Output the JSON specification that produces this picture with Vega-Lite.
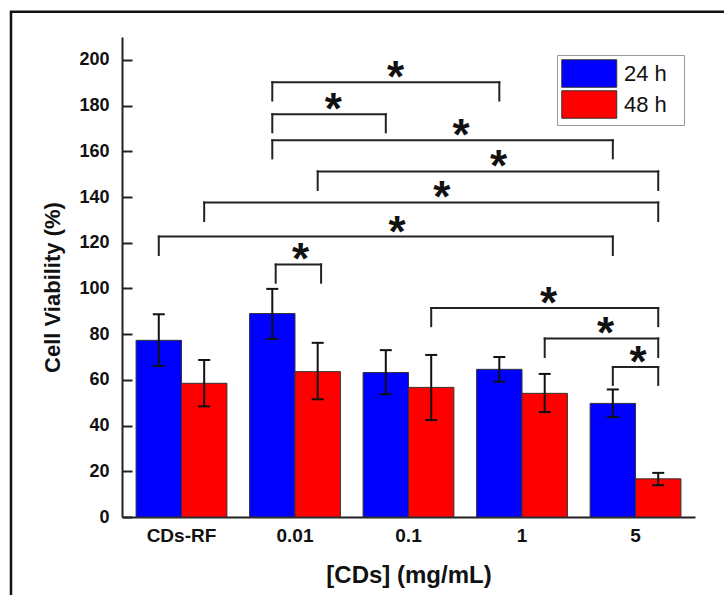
{
  "$schema": "https://vega.github.io/schema/vega-lite/v6.json",
  "width": 573,
  "height": 480,
  "autosize": {"type": "none"},
  "padding": {"left": 122, "top": 37, "right": 29, "bottom": 78},
  "background": "white",
  "config": {
    "view": {"stroke": null},
    "font": "Liberation Sans",
    "axis": {"labelFont": "Liberation Sans", "titleFont": "Liberation Sans", "labelColor": "#111", "titleColor": "#111", "grid": false}
  },
  "datasets": {
    "bars": [
      {"cat": "CDs-RF", "grp": "24 h", "v": 77.3, "lo": 66.1, "hi": 88.7},
      {"cat": "CDs-RF", "grp": "48 h", "v": 58.5, "lo": 48.4, "hi": 68.7},
      {"cat": "0.01", "grp": "24 h", "v": 89.0, "lo": 77.9, "hi": 99.8},
      {"cat": "0.01", "grp": "48 h", "v": 63.6, "lo": 51.5, "hi": 76.2},
      {"cat": "0.1", "grp": "24 h", "v": 63.2, "lo": 53.7, "hi": 73.0},
      {"cat": "0.1", "grp": "48 h", "v": 56.7, "lo": 42.4, "hi": 70.9},
      {"cat": "1", "grp": "24 h", "v": 64.6, "lo": 59.2, "hi": 70.0},
      {"cat": "1", "grp": "48 h", "v": 54.1, "lo": 45.9, "hi": 62.6},
      {"cat": "5", "grp": "24 h", "v": 49.7, "lo": 43.7, "hi": 55.8},
      {"cat": "5", "grp": "48 h", "v": 16.7, "lo": 13.9, "hi": 19.3}
    ],
    "brackets": [
      {"x1": 0.8, "x2": 2.8, "top": 190.2, "drop": 182.2, "sx": 1.887},
      {"x1": 0.8, "x2": 1.8, "top": 176.2, "drop": 168.3, "sx": 1.337},
      {"x1": 0.8, "x2": 3.8, "top": 164.8, "drop": 156.9, "sx": 2.463},
      {"x1": 1.2, "x2": 4.2, "top": 151.2, "drop": 143.1, "sx": 2.794},
      {"x1": 0.2, "x2": 4.2, "top": 137.6, "drop": 129.5, "sx": 2.293},
      {"x1": -0.2, "x2": 3.8, "top": 122.7, "drop": 114.6, "sx": 1.899},
      {"x1": 0.83, "x2": 1.23, "top": 110.5, "drop": 102.5, "sx": 1.049},
      {"x1": 2.2, "x2": 4.2, "top": 91.4, "drop": 83.5, "sx": 3.233},
      {"x1": 3.2, "x2": 4.2, "top": 78.1, "drop": 70.0, "sx": 3.737},
      {"x1": 3.8, "x2": 4.2, "top": 65.6, "drop": 57.8, "sx": 4.022}
    ],
    "frame": [
      {"k": 1, "fx": -1.502, "fy": -40},
      {"k": 2, "fx": -1.502, "fy": 221.0},
      {"k": 3, "fx": 4.9, "fy": 221.0}
    ]
  },
  "resolve": {"scale": {"x": "independent", "y": "independent"}, "axis": {"x": "independent", "y": "independent"}},
  "layer": [
    {
      "data": {"name": "bars"},
      "encoding": {
        "x": {
          "field": "cat", "type": "nominal",
          "sort": ["CDs-RF", "0.01", "0.1", "1", "5"],
          "scale": {"paddingInner": 0.2, "paddingOuter": 0.124},
          "axis": {
            "title": "[CDs] (mg/mL)", "titleFontSize": 24, "titleFontWeight": "bold", "titlePadding": 18,
            "labelAngle": 0, "labelFontSize": 19, "labelFontWeight": "bold", "labelPadding": 9,
            "ticks": false, "domainColor": "#222", "domainWidth": 2
          }
        },
        "xOffset": {"field": "grp", "type": "nominal", "scale": {"paddingInner": 0, "paddingOuter": 0}}
      },
      "layer": [
        {
          "mark": {"type": "bar", "stroke": "#333", "strokeWidth": 1},
          "encoding": {
            "y": {
              "field": "v", "type": "quantitative",
              "scale": {"domain": [0, 210], "nice": false, "zero": true},
              "axis": {
                "orient": "left",
                "title": "Cell Viability (%)", "titleFontSize": 22, "titleFontWeight": "bold", "titlePadding": 14, "titleY": 250,
                "values": [0, 20, 40, 60, 80, 100, 120, 140, 160, 180, 200],
                "labelFontSize": 18, "labelFontWeight": "bold", "labelPadding": 13,
                "ticks": false,
                "domainColor": "#222", "domainWidth": 2
              }
            },
            "color": {
              "field": "grp", "type": "nominal",
              "scale": {"domain": ["24 h", "48 h"], "range": ["#0000FF", "#FF0000"]},
              "legend": {
                "title": null, "orient": "none", "legendX": 435, "legendY": 18,
                "strokeColor": "#999", "padding": 4,
                "symbolType": "M-1,-1H3V1H-1Z M7.4,0", "symbolSize": 756,
                "symbolStrokeColor": "#333", "symbolStrokeWidth": 1, "symbolOpacity": 1,
                "labelFontSize": 22, "labelFont": "Liberation Sans", "labelColor": "#111",
                "rowPadding": -3, "labelOffset": 34
              }
            }
          }
        },
        {
          "mark": {"type": "rule", "color": "#111", "strokeWidth": 2},
          "encoding": {
            "y": {"field": "lo", "type": "quantitative"},
            "y2": {"field": "hi"}
          }
        },
        {
          "mark": {"type": "tick", "orient": "horizontal", "size": 12, "thickness": 2, "color": "#111", "opacity": 1},
          "encoding": {"y": {"field": "lo", "type": "quantitative"}}
        },
        {
          "mark": {"type": "tick", "orient": "horizontal", "size": 12, "thickness": 2, "color": "#111", "opacity": 1},
          "encoding": {"y": {"field": "hi", "type": "quantitative"}}
        }
      ]
    },
    {
      "layer": [
        {
          "data": {"name": "brackets"},
          "mark": {"type": "rule", "color": "#222", "strokeWidth": 2, "strokeCap": "square"},
          "encoding": {
            "x": {"field": "x1", "type": "quantitative", "scale": {"domain": [-0.524, 4.524], "nice": false, "zero": false}, "axis": null},
            "x2": {"field": "x2"},
            "y": {
              "field": "top", "type": "quantitative",
              "scale": {"domain": [0, 210], "nice": false, "zero": false},
              "axis": {
                "orient": "right", "offset": -573, "title": null, "labels": false, "domain": false,
                "values": [0, 10, 20, 30, 40, 50, 60, 70, 80, 90, 100, 110, 120, 130, 140, 150, 160, 170, 180, 190, 200, 210],
                "ticks": true, "tickColor": "#222", "tickWidth": 2,
                "tickSize": {"condition": {"test": "datum.value % 20 == 0 && datum.value <= 200", "value": 10}, "value": 6}
              }
            }
          }
        },
        {
          "data": {"name": "brackets"},
          "mark": {"type": "rule", "color": "#222", "strokeWidth": 2, "strokeCap": "square"},
          "encoding": {
            "x": {"field": "x1", "type": "quantitative", "axis": null},
            "y": {"field": "drop", "type": "quantitative"},
            "y2": {"field": "top"}
          }
        },
        {
          "data": {"name": "brackets"},
          "mark": {"type": "rule", "color": "#222", "strokeWidth": 2, "strokeCap": "square"},
          "encoding": {
            "x": {"field": "x2", "type": "quantitative", "axis": null},
            "y": {"field": "drop", "type": "quantitative"},
            "y2": {"field": "top"}
          }
        },
        {
          "data": {"name": "brackets"},
          "mark": {"type": "text", "text": "*", "fontSize": 44, "fontWeight": "bold", "font": "Liberation Sans", "color": "#111", "baseline": "alphabetic", "align": "center", "dy": 10},
          "encoding": {
            "x": {"field": "sx", "type": "quantitative", "axis": null},
            "y": {"field": "top", "type": "quantitative"}
          }
        },
        {
          "data": {"name": "frame"},
          "mark": {"type": "line", "color": "#111", "strokeWidth": 2.5, "clip": false},
          "encoding": {
            "x": {"field": "fx", "type": "quantitative", "axis": null},
            "y": {"field": "fy", "type": "quantitative"},
            "order": {"field": "k"}
          }
        }
      ]
    }
  ]
}
